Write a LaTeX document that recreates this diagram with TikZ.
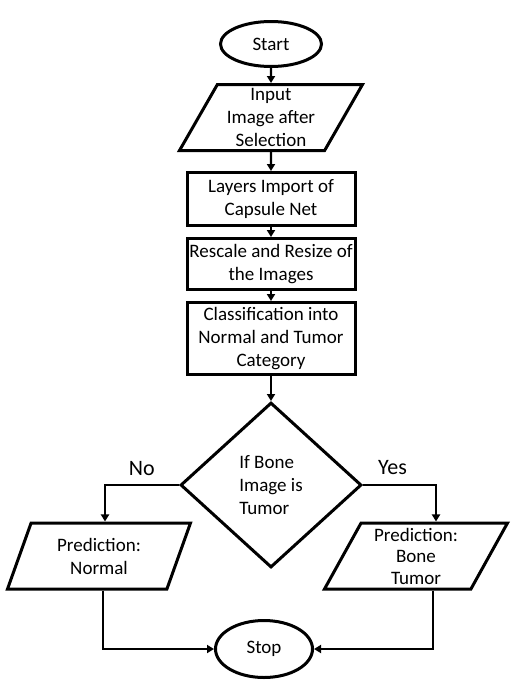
\documentclass[tikz,border=0pt]{standalone}
\usepackage{fontspec}
\setmainfont{Carlito}
\usetikzlibrary{shapes.geometric,arrows.meta,positioning}

\begin{document}
\begin{tikzpicture}[x=1pt, y=-1pt,
    every node/.style={font=\fontsize{19}{23}\selectfont},
    term/.style={draw, ellipse, line width=3pt, minimum width=101pt, minimum height=45pt, inner sep=1pt},
    io/.style={draw, trapezium, trapezium left angle=57, trapezium right angle=123, trapezium stretches body=true, line width=3pt, minimum width=183pt, minimum height=66pt, inner sep=0pt, align=center},
    proc/.style={draw, rectangle, line width=3pt, minimum width=168pt, inner sep=2pt, align=center},
    cond/.style={draw, diamond, line width=3pt, minimum width=181pt, minimum height=165pt, inner sep=0pt, align=left},
    lbl/.style={inner sep=0pt, font=\fontsize{22}{26}\selectfont},
    flow/.style={-{Triangle[length=7pt,width=8pt]}, line width=2.4pt}]
  \useasboundingbox (0,0) rectangle (530,691);

  % main column
  \node[term] (start) at (271,44) {Start};
  \node[io, below=15pt of start] (input) {Input\\Image after\\Selection};
  \node[proc, minimum height=53pt, below=19pt of input] (layers) {Layers Import of\\Capsule Net};
  \node[proc, minimum height=51pt, below=10pt of layers] (resize) {Rescale and Resize of\\the Images};
  \node[proc, minimum height=72pt, below=10pt of resize] (classify) {Classification into\\Normal and Tumor\\Category};
  \node[cond, below=25pt of classify] (bone) {If Bone\\Image is\\Tumor};

  % the two outcomes
  \node[io] (normal) at (99,556) {Prediction:\\Normal};
  \node[io, font=\fontsize{19}{21.5}\selectfont] (tumor) at (416,556) {Prediction:\\Bone\\Tumor};
  \node[term, minimum width=97pt, minimum height=57pt] (stop) at (264,649) {Stop};

  \node[lbl, above left=9pt and 24pt of bone.west] (no) {No};
  \node[lbl, above right=10pt and 15pt of bone.east] (yes) {Yes};

  \draw[flow] (start) -- (input);
  \draw[flow] (input) -- (layers);
  \draw[flow] (layers) -- (resize);
  \draw[flow] (resize) -- (classify);
  \draw[flow] (classify) -- (bone);
  \draw[flow] (bone.west) -| ([xshift=6pt]normal.north);
  \draw[flow] (bone.east) -| ([xshift=20pt]tumor.north);
  \draw[flow] ([xshift=4pt]normal.south) |- (stop.west);
  \draw[flow] ([xshift=17pt]tumor.south) |- (stop.east);
\end{tikzpicture}
\end{document}
